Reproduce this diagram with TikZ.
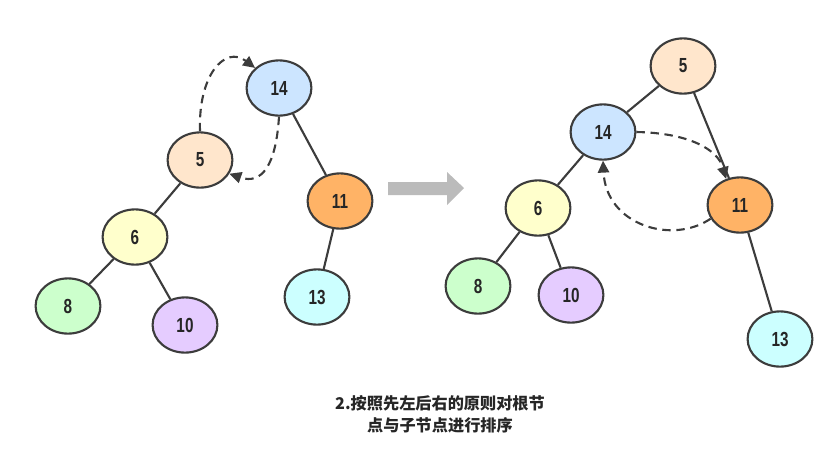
\documentclass[tikz,border=0pt]{standalone}
\usepackage{fontspec}
\newfontfamily\cjk{Noto Sans CJK SC}
\newfontfamily\numfont[FakeStretch=0.75]{Liberation Sans}
\usetikzlibrary{shapes.geometric,arrows.meta}
\definecolor{linea}{HTML}{3C3C3C}
\definecolor{azul}{HTML}{CCE5FF}
\definecolor{melocoton}{HTML}{FFE6CC}
\definecolor{naranja}{HTML}{FFB366}
\definecolor{amarillo}{HTML}{FFFFCC}
\definecolor{verde}{HTML}{CCFFCC}
\definecolor{lila}{HTML}{E5CCFF}
\definecolor{cian}{HTML}{CCFFFF}
\definecolor{gris}{HTML}{BBBBBB}

\begin{document}
\begin{tikzpicture}[x=0.025cm,y=-0.025cm]
\tikzstyle{bola}=[ellipse,draw=linea,line width=1.5pt,minimum width=1.62cm,minimum height=1.38cm,inner sep=0pt,font=\numfont\bfseries\fontsize{14.5}{14.5}\selectfont,text=black!85]
\tikzstyle{rama}=[draw=linea,line width=1.5pt]
\tikzstyle{cambio}=[draw=linea,line width=1.5pt,dash pattern=on 6pt off 4pt,-{Triangle[length=8.5pt,width=8pt]}]
\useasboundingbox (0,0) rectangle (827,449);
% arbol de la izquierda
\node[bola,fill=azul] (l14) at (279,88) {14};
\node[bola,fill=melocoton] (l5) at (200,160) {5};
\node[bola,fill=naranja] (l11) at (340,201) {11};
\node[bola,fill=amarillo] (l6) at (135,237) {6};
\node[bola,fill=verde] (l8) at (68,306) {8};
\node[bola,fill=lila] (l10) at (185,325) {10};
\node[bola,fill=cian] (l13) at (317,297) {13};
\draw[rama] (l14) -- (l11);
\draw[rama] (l11) -- (l13);
\draw[rama] (l5) -- (l6);
\draw[rama] (l6) -- (l8);
\draw[rama] (l6) -- (l10);
\draw[cambio] (l5.north) .. controls (198,75) and (225,45) .. (l14.140);
\draw[cambio] (l14.south) .. controls (276,165) and (262,185) .. (l5.-25);
% flecha gris
\fill[gris] (388,182) -- (447,182) -- (447,172) -- (464,188) -- (447,205) -- (447,195) -- (388,195) -- cycle;
% arbol de la derecha
\node[bola,fill=melocoton] (r5) at (683,66) {5};
\node[bola,fill=azul] (r14) at (603,132) {14};
\node[bola,fill=naranja] (r11) at (740,205) {11};
\node[bola,fill=amarillo] (r6) at (538,208) {6};
\node[bola,fill=verde] (r8) at (478,286) {8};
\node[bola,fill=lila] (r10) at (571,295) {10};
\node[bola,fill=cian] (r13) at (780,339) {13};
\draw[rama] (r5) -- (r14);
\draw[rama] (r5) -- (r11);
\draw[rama] (r14) -- (r6);
\draw[rama] (r6) -- (r8);
\draw[rama] (r6) -- (r10);
\draw[rama] (r11) -- (r13);
\draw[cambio] (r14.east) .. controls (690,133) and (718,150) .. (r11.118);
\draw[cambio] (r11.205) .. controls (672,245) and (606,225) .. (r14.south);
% texto
\node[font=\cjk\bfseries\fontsize{11.5}{15.5}\selectfont,align=center,text=black!85] (pie) at (440,414) {2.按照先左后右的原则对根节\\点与子节点进行排序};
\end{tikzpicture}
\end{document}
